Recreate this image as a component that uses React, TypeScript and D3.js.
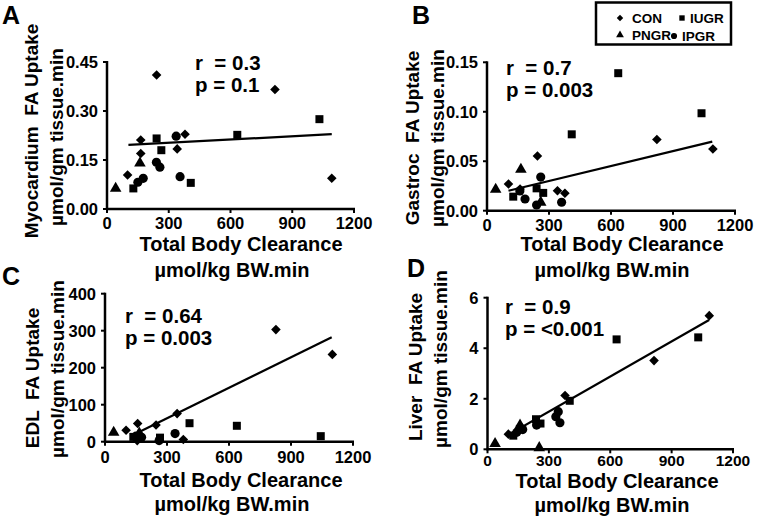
import React from 'react';
import * as d3 from 'd3';

type Pt = [number, number];

const FONT = "'Liberation Sans', Arial, Helvetica, sans-serif";

const xTicks = [0, 300, 600, 900, 1200];
const groups = ['CON', 'IUGR', 'PNGR', 'IPGR'];

// A - myocardium
const myoCon: Pt[] = [[241, 0.41], [816, 0.366], [1092, 0.094], [164, 0.211], [164, 0.17], [100, 0.104], [341, 0.184], [379, 0.229]];
const myoIugr: Pt[] = [[241, 0.216], [264, 0.18], [633, 0.227], [1032, 0.275], [407, 0.08], [128, 0.063]];
const myoPngr: Pt[] = [[42, 0.063], [160, 0.14]];
const myoIpgr: Pt[] = [[336, 0.223], [240, 0.143], [257, 0.128], [355, 0.099], [176, 0.094], [150, 0.082]];
const myoFit: Pt[] = [[104, 0.196], [1092, 0.229]];
const myoTicks = [0, 0.15, 0.3, 0.45];

// B - gastroc
const gasCon: Pt[] = [[244, 0.0553], [104, 0.027], [160, 0.022], [341, 0.0202], [377, 0.0176], [822, 0.072], [1093, 0.0624]];
const gasIugr: Pt[] = [[635, 0.139], [1038, 0.0985], [410, 0.0772], [127, 0.0142], [240, 0.0226], [272, 0.018]];
const gasPngr: Pt[] = [[42, 0.0216], [164, 0.0418], [260, 0.0085]];
const gasIpgr: Pt[] = [[260, 0.034], [184, 0.0118], [240, 0.0058], [361, 0.0085], [159, 0.02]];
const gasFit: Pt[] = [[104, 0.0202], [1090, 0.0698]];
const gasTicks = [0, 0.05, 0.1, 0.15];

// C - EDL
const edlCon: Pt[] = [[827, 303], [1100, 236], [349, 76], [247, 45], [158, 49], [102, 31], [156, 3], [379, 6]];
const edlIugr: Pt[] = [[409, 50], [638, 43], [1044, 15], [266, 11], [137, 13]];
const edlPngr: Pt[] = [[42, 25], [166, 23]];
const edlIpgr: Pt[] = [[339, 22], [177, 12], [150, 15], [262, 3]];
const edlFit: Pt[] = [[160, 25], [1097, 282]];
const edlTicks = [0, 100, 200, 300, 400];

// D - liver
const livCon: Pt[] = [[1084, 5.29], [814, 3.51], [379, 2.13], [102, 0.6], [160, 0.92], [245, 1.05]];
const livIugr: Pt[] = [[631, 4.35], [1030, 4.43], [402, 1.92], [237, 1.19], [259, 1.02], [126, 0.54]];
const livPngr: Pt[] = [[37, 0.22], [253, 0.06], [159, 0.95]];
const livIpgr: Pt[] = [[346, 1.49], [334, 1.29], [354, 1.05], [240, 0.96], [172, 0.78], [143, 0.67]];
const livFit: Pt[] = [[102, 0.57], [1083, 5.12]];
const livTicks = [0, 2, 4, 6];

const symbolPath = (g: string, s = 1) => {
  if (g === 'CON') return d3.symbol().type(d3.symbolSquare).size(46 * s)()!;
  if (g === 'IUGR') return d3.symbol().type(d3.symbolSquare).size(64 * s)()!;
  if (g === 'PNGR') return d3.symbol().type(d3.symbolTriangle).size(58 * s)()!;
  return d3.symbol().type(d3.symbolCircle).size(66 * s)()!;
};

const Marker = ({ g, x, y, s = 1 }: { g: string; x: number; y: number; s?: number }) => (
  <path
    d={symbolPath(g, s)}
    transform={`translate(${x},${y})${g === 'CON' ? ' rotate(45)' : ''}`}
    fill="#000"
  />
);

interface PanelCfg {
  letter: string;
  lx: number; ly: number;
  x0: number; x1: number; yTop: number; yBot: number;
  yMax: number; ticks: number[]; fmt: (v: number) => string;
  series: Pt[][]; fit: Pt[];
  yl1: string; yl1x: number; yl1c: number; yl2x: number; yl2c: number;
  r: string; p: string; rx: number; ry: number; xtl: number; tfs: number;
  xt1c: number; xt1y: number; xt2c: number; xt2y: number;
}

const Panel = ({ c }: { c: PanelCfg }) => {
  const x = d3.scaleLinear().domain([0, 1200]).range([c.x0, c.x1]);
  const y = d3.scaleLinear().domain([0, c.yMax]).range([c.yBot, c.yTop]);
  const line = d3.line<Pt>().x(d => x(d[0])).y(d => y(d[1]));
  return (
    <g fontFamily={FONT} fontWeight="bold" fill="#000">
      <text x={c.lx} y={c.ly} fontSize={25}>{c.letter}</text>
      <text transform={`translate(${c.yl1x},${c.yl1c}) rotate(-90)`} textAnchor="middle" fontSize={19} style={{ whiteSpace: 'pre' }}>{c.yl1}</text>
      <text transform={`translate(${c.yl2x},${c.yl2c}) rotate(-90)`} textAnchor="middle" fontSize={19}>µmol/gm tissue.min</text>
      {c.ticks.map(t => (
        <g key={t}>
          <line x1={c.x0 - 4} x2={c.x0} y1={y(t)} y2={y(t)} stroke="#000" strokeWidth={2} />
          <text x={c.x0 - 9} y={y(t)} dy="0.36em" textAnchor="end" fontSize={16.5}>{c.fmt(t)}</text>
        </g>
      ))}
      {xTicks.map(t => (
        <g key={t}>
          <line x1={x(t)} x2={x(t)} y1={c.yBot} y2={c.yBot + 4} stroke="#000" strokeWidth={2} />
          <text x={x(t)} y={c.yBot + c.xtl} textAnchor="middle" fontSize={c.tfs}>{t}</text>
        </g>
      ))}
      <line x1={c.x0} x2={c.x0} y1={y(c.yMax) - 1} y2={c.yBot + 1} stroke="#000" strokeWidth={2.5} />
      <line x1={c.x0 - 1} x2={x(1200) + 1} y1={c.yBot} y2={c.yBot} stroke="#000" strokeWidth={2.5} />
      {c.series.map((pts, i) =>
        pts.map((d, j) => <Marker key={`${i}-${j}`} g={groups[i]} x={x(d[0])} y={y(d[1])} />)
      )}
      <path d={line(c.fit)!} stroke="#000" strokeWidth={2.2} fill="none" />
      <text x={c.rx} y={c.ry} fontSize={20.5} style={{ whiteSpace: 'pre' }}>{c.r}</text>
      <text x={c.rx} y={c.ry + 22} fontSize={20.5}>{c.p}</text>
      <text x={c.xt1c} y={c.xt1y} textAnchor="middle" fontSize={20}>Total Body Clearance</text>
      <text x={c.xt2c} y={c.xt2y} textAnchor="middle" fontSize={20}>µmol/kg BW.min</text>
    </g>
  );
};

const fmt2 = d3.format('.2f');
const fmt0 = d3.format('d');

const panels: PanelCfg[] = [
  {
    letter: 'A', lx: 2, ly: 24, x0: 107, x1: 354, yTop: 62, yBot: 209, yMax: 0.45, ticks: myoTicks, fmt: fmt2,
    series: [myoCon, myoIugr, myoPngr, myoIpgr], fit: myoFit,
    yl1: 'Myocardium  FA Uptake', yl1x: 38, yl1c: 131, yl2x: 63, yl2c: 137,
    r: 'r  = 0.3', p: 'p = 0.1', rx: 195, ry: 70, xtl: 20, tfs: 16.5,
    xt1c: 241, xt1y: 251, xt2c: 232, xt2y: 277,
  },
  {
    letter: 'B', lx: 412, ly: 24, x0: 487, x1: 735, yTop: 62.3, yBot: 210.7, yMax: 0.15, ticks: gasTicks, fmt: fmt2,
    series: [gasCon, gasIugr, gasPngr, gasIpgr], fit: gasFit,
    yl1: 'Gastroc  FA Uptake', yl1x: 419, yl1c: 138, yl2x: 444, yl2c: 138,
    r: 'r  = 0.7', p: 'p = 0.003', rx: 506, ry: 75, xtl: 20, tfs: 16.5,
    xt1c: 622, xt1y: 251, xt2c: 612, xt2y: 277,
  },
  {
    letter: 'C', lx: 2, ly: 285, x0: 105, x1: 353, yTop: 293.7, yBot: 441.7, yMax: 400, ticks: edlTicks, fmt: fmt0,
    series: [edlCon, edlIugr, edlPngr, edlIpgr], fit: edlFit,
    yl1: 'EDL  FA Uptake', yl1x: 39, yl1c: 378, yl2x: 64, yl2c: 369,
    r: 'r  = 0.64', p: 'p = 0.003', rx: 125, ry: 323, xtl: 21, tfs: 16.5,
    xt1c: 241, xt1y: 487, xt2c: 232, xt2y: 511,
  },
  {
    letter: 'D', lx: 407, ly: 277, x0: 487.5, x1: 733, yTop: 297.7, yBot: 449.3, yMax: 6, ticks: livTicks, fmt: fmt0,
    series: [livCon, livIugr, livPngr, livIpgr], fit: livFit,
    yl1: 'Liver  FA Uptake', yl1x: 422, yl1c: 367, yl2x: 447, yl2c: 359,
    r: 'r  = 0.9', p: 'p = <0.001', rx: 505, ry: 314, xtl: 16.5, tfs: 15.5,
    xt1c: 617, xt1y: 488, xt2c: 612, xt2y: 512,
  },
];

const legendItems = [
  { g: 'CON', mx: 620, my: 18, tx: 632, ty: 23 },
  { g: 'IUGR', mx: 682, my: 18, tx: 690, ty: 23 },
  { g: 'PNGR', mx: 620, my: 35, tx: 632, ty: 40 },
  { g: 'IPGR', mx: 674, my: 36, tx: 682, ty: 41 },
];

export default function App() {
  return (
    <div style={{ position: 'absolute', left: 0, top: 0 }}>
      <svg width={758} height={517} style={{ display: 'block', background: '#fff' }}>
        <rect width={758} height={517} fill="#fff" />
        {panels.map(c => <Panel key={c.letter} c={c} />)}
        <rect x={596} y={2.5} width={135} height={42} fill="#fff" stroke="#000" strokeWidth={2.5} />
        {legendItems.map(it => (
          <g key={it.g}>
            <Marker g={it.g} x={it.mx} y={it.my} s={0.45} />
            <text x={it.tx} y={it.ty} fontFamily={FONT} fontWeight="bold" fontSize={13.5}>{it.g}</text>
          </g>
        ))}
      </svg>
    </div>
  );
}
